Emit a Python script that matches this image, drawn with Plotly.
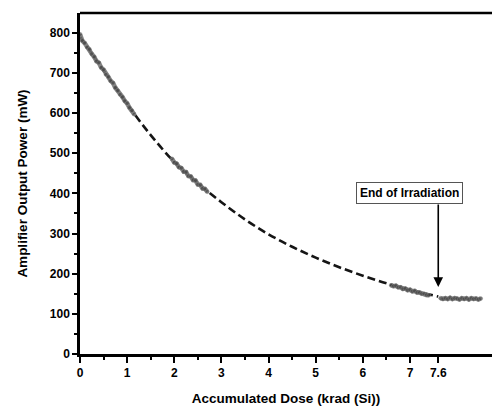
import plotly.graph_objects as go

# Fitted (dashed) curve
fit_dose = [0, 0.5, 1.0, 1.5, 2.0, 2.5, 3.0, 3.5, 4.0, 4.5, 5.0, 5.5, 6.0, 6.5, 7.0, 7.6]
fit_power = [790, 706, 622, 545, 478, 425, 378, 335, 298, 267, 240, 216, 195, 176, 160, 143]

# Measured data segments
meas_a_dose = [0, 0.05, 0.1, 0.15, 0.2, 0.25, 0.3, 0.35, 0.4, 0.45, 0.5, 0.55,
               0.6, 0.65, 0.7, 0.75, 0.8, 0.85, 0.9, 0.95, 1.0, 1.05, 1.1, 1.15]
meas_a_power = [796, 780, 774, 764, 759, 747, 740, 729, 725, 713, 708, 696,
                690, 680, 675, 663, 656, 646, 640, 630, 624, 613, 606, 597]
meas_b_dose = [1.95, 2.0, 2.05, 2.1, 2.15, 2.2, 2.25, 2.3, 2.35, 2.4, 2.45, 2.5, 2.55, 2.6, 2.65, 2.7]
meas_b_power = [486, 477, 474, 465, 463, 454, 453, 443, 442, 433, 432, 422, 421, 412, 411, 404]
meas_c_dose = [6.6, 6.65, 6.7, 6.75, 6.8, 6.85, 6.9, 6.95, 7.0, 7.05, 7.1, 7.15, 7.2, 7.25, 7.3, 7.35, 7.4]
meas_c_power = [171, 169, 170, 166, 166, 162, 163, 159, 160, 156, 157, 153, 153, 150, 150, 147, 146]
meas_d_dose = [7.65, 7.7, 7.75, 7.8, 7.85, 7.9, 7.95, 8.0, 8.05, 8.1, 8.15, 8.2, 8.25, 8.3, 8.35, 8.4, 8.45, 8.5]
meas_d_power = [139, 137, 139, 137, 140, 137, 139, 138, 136, 139, 137, 139, 136, 139, 137, 138, 136, 138]

x_tickvals = [0, 1, 2, 3, 4, 5, 6, 7, 7.6]
x_ticktext = ["0", "1", "2", "3", "4", "5", "6", "7", "7.6"]
x_minor = [0.5, 1.5, 2.5, 3.5, 4.5, 5.5, 6.5]
y_tickvals = [0, 100, 200, 300, 400, 500, 600, 700, 800]

FONT = "Liberation Sans, Arial, sans-serif"

fig = go.Figure()
fig.add_trace(go.Scatter(
    x=fit_dose, y=fit_power, mode="lines",
    line=dict(color="#151515", width=2.6, dash="8px,4px", shape="spline"),
    showlegend=False,
))
for xs, ys in [(meas_a_dose, meas_a_power), (meas_b_dose, meas_b_power),
               (meas_c_dose, meas_c_power), (meas_d_dose, meas_d_power)]:
    fig.add_trace(go.Scatter(
        x=xs, y=ys, mode="lines+markers",
        line=dict(color="rgba(110,110,110,0.85)", width=4.5),
        marker=dict(size=4, color="rgba(70,70,70,0.75)",
                    line=dict(color="rgba(150,150,150,0.6)", width=0.6)),
        showlegend=False,
    ))

# End of irradiation label + arrow
fig.add_annotation(
    x=6.98, y=401, text="<b>End of Irradiation</b>", showarrow=False,
    font=dict(family=FONT, size=12, color="black"),
    bordercolor="#555555", borderwidth=1, borderpad=3, bgcolor="white",
)
fig.add_annotation(
    x=7.6, y=167, text="", showarrow=True, arrowhead=2, arrowsize=1.2,
    arrowwidth=1.6, arrowcolor="black", ax=0, ay=-84,
)

# top frame line
fig.add_shape(type="line", xref="paper", yref="paper", x0=0, x1=1, y0=1, y1=1,
              line=dict(color="black", width=2.5))

fig.update_xaxes(
    range=[0, 8.74], tickmode="array", tickvals=x_tickvals, ticktext=x_ticktext,
    ticks="outside", ticklen=6, tickwidth=2, tickcolor="black",
    showline=True, linecolor="black", linewidth=2.5, showgrid=False, zeroline=False,
    tickfont=dict(family=FONT, size=12, color="black", weight="bold"),
    minor=dict(tickvals=x_minor, ticks="outside", ticklen=3, tickwidth=2, tickcolor="black"),
    title=dict(text="<b>Accumulated Dose (krad (Si))</b>",
               font=dict(family=FONT, size=13.5, color="black"), standoff=16),
)
fig.update_yaxes(
    range=[0, 849], tickmode="array", tickvals=y_tickvals,
    ticks="outside", ticklen=5, tickwidth=2, tickcolor="black",
    showline=True, linecolor="black", linewidth=2.5, showgrid=False, zeroline=False,
    tickfont=dict(family=FONT, size=12, color="black", weight="bold"),
    minor=dict(dtick=50, tick0=0, ticks="outside", ticklen=3, tickwidth=2, tickcolor="black"),
    title=dict(text="<b>Amplifier Output Power (mW)</b>",
               font=dict(family=FONT, size=13.5, color="black"), standoff=20),
)
fig.update_layout(
    width=492, height=406,
    margin=dict(l=80, r=0, t=13, b=50),
    paper_bgcolor="white", plot_bgcolor="white",
)
fig.write_html("out.html")
